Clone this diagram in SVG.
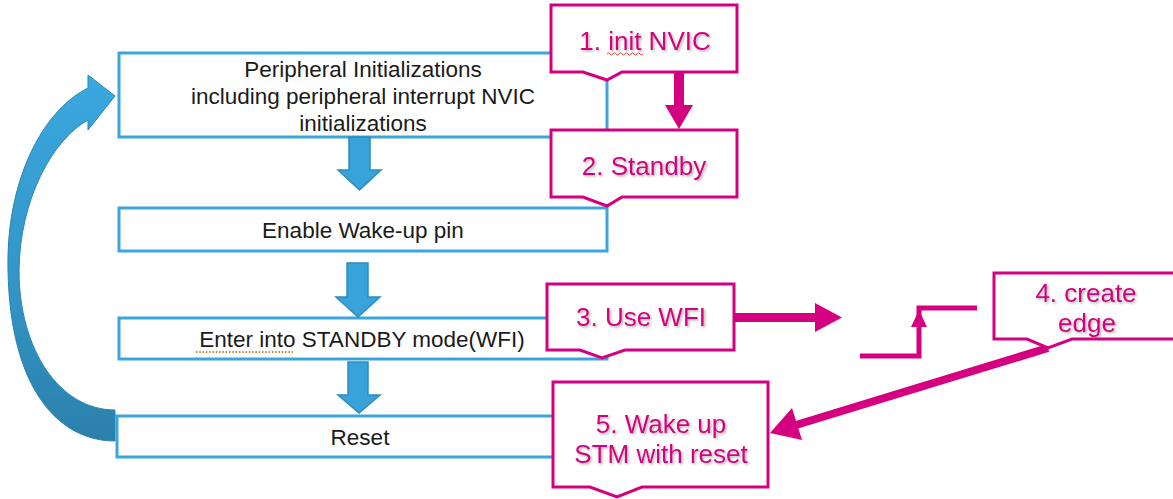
<svg xmlns="http://www.w3.org/2000/svg" width="1173" height="499" viewBox="0 0 1173 499">
<style>
.box{fill:#fff;stroke:#3aa6dc;stroke-width:3}
.bt{font-family:"Liberation Sans",Arial,sans-serif;font-size:22.5px;fill:#1a1a1a;text-anchor:middle}
.call{fill:#fff;stroke:#d5007f;stroke-width:3;stroke-linejoin:miter}
.mt{font-family:"Liberation Sans",Arial,sans-serif;font-size:26px;fill:#d5007f;text-anchor:middle;filter:url(#sh)}
.darr{fill:#37a3d9;stroke:#2d8cc0;stroke-width:1.5}
.mag{fill:#d5007f}
.magl{fill:none;stroke:#d5007f}
</style>
<defs>
<filter id="sh" x="-10%" y="-20%" width="130%" height="150%">
<feDropShadow dx="1.5" dy="1.5" stdDeviation="1" flood-color="#555" flood-opacity="0.45"/>
</filter>
<linearGradient id="cg" x1="0" y1="0" x2="0" y2="1">
<stop offset="0" stop-color="#3aa8df"/>
<stop offset="0.55" stop-color="#3396c9"/>
<stop offset="1" stop-color="#2b80aa"/>
</linearGradient>
</defs>

<g id="n_periph">
<rect class="box" x="119" y="53" width="488" height="84"/>
<text class="bt" x="363" y="77">Peripheral Initializations</text>
<text class="bt" x="363" y="104">including peripheral interrupt NVIC</text>
<text class="bt" x="363" y="131">initializations</text>
</g>
<g id="n_wakeup">
<rect class="box" x="119" y="208" width="488" height="43"/>
<text class="bt" x="363" y="238">Enable Wake-up pin</text>
</g>
<g id="n_standby">
<rect class="box" x="119" y="318" width="488" height="41"/>
<text class="bt" x="362" y="347">Enter into STANDBY mode(WFI)</text>
<path d="M196,352 H293" fill="none" stroke="#c08a2a" stroke-width="2" stroke-dasharray="1.5,1.8"/>
</g>
<g id="n_reset">
<rect class="box" x="117" y="416" width="483" height="41"/>
<text class="bt" x="360" y="445">Reset</text>
</g>

<g id="connectors">
<path class="darr" d="M349,137 H370 V170 H381 L359.5,190 L338,170 H349 Z"/>
<path class="darr" d="M347,263 H368 V297 H380 L358,317 L336,297 H347 Z"/>
<path class="darr" d="M348,362 H368 V395 H380 L359,413 L338,395 H348 Z"/>
<path d="M115,441 C58,441 10,388 8,270 C6,185 40,112 88,88 L88,75 L115,96 L88,130 L88,120 C52,140 20,200 19,270 C19,350 60,410 115,410 Z" fill="url(#cg)" stroke="#2a86b5" stroke-width="1"/>

<rect class="mag" x="674" y="72" width="10" height="34"/>
<polygon class="mag" points="665,105 693,105 679,129"/>
<rect class="mag" x="734" y="313" width="82" height="9"/>
<polygon class="mag" points="815,303 842,317.5 815,332"/>
<polyline class="magl" points="860,356 919,356 919,308 977,308" stroke-width="5"/>
<polygon class="mag" points="911,327 927,327 919,310"/>
<path class="magl" d="M1048,348 L796,425" stroke-width="8"/>
<polygon class="mag" points="770,433 792,408 802,440"/>
</g>

<g id="c1">
<path class="call" d="M551,5 H737 V72 H622 L607,80 L583,72 H551 Z"/>
<text class="mt" x="645" y="50">1. init NVIC</text>
<path d="M607,54 q1.5,-2 3,0 t3,0 t3,0 t3,0 t3,0 t3,0 t3,0 t3,0 t3,0 t3,0 t3,0 t3,0" fill="none" stroke="#e04040" stroke-width="1"/>
</g>
<g id="c2">
<path class="call" d="M551,130 H737 V197 H622 L607,206 L583,197 H551 Z"/>
<text class="mt" x="644" y="175">2. Standby</text>
</g>
<g id="c3">
<path class="call" d="M547,284 H734 V350 H625 L602,358 L580,350 H547 Z"/>
<text class="mt" x="641" y="326">3. Use WFI</text>
</g>
<g id="c4">
<path class="call" d="M994,273 H1180 V339 H1072 L1048,348 L1027,339 H994 Z"/>
<text class="mt" x="1086" y="302">4. create</text>
<text class="mt" x="1087" y="332">edge</text>
</g>
<g id="c5">
<path class="call" d="M553,382 H768 V487 H642 L617,497 L590,487 H553 Z"/>
<text class="mt" x="661" y="433">5. Wake up</text>
<text class="mt" x="661" y="463">STM with reset</text>
</g>
</svg>
